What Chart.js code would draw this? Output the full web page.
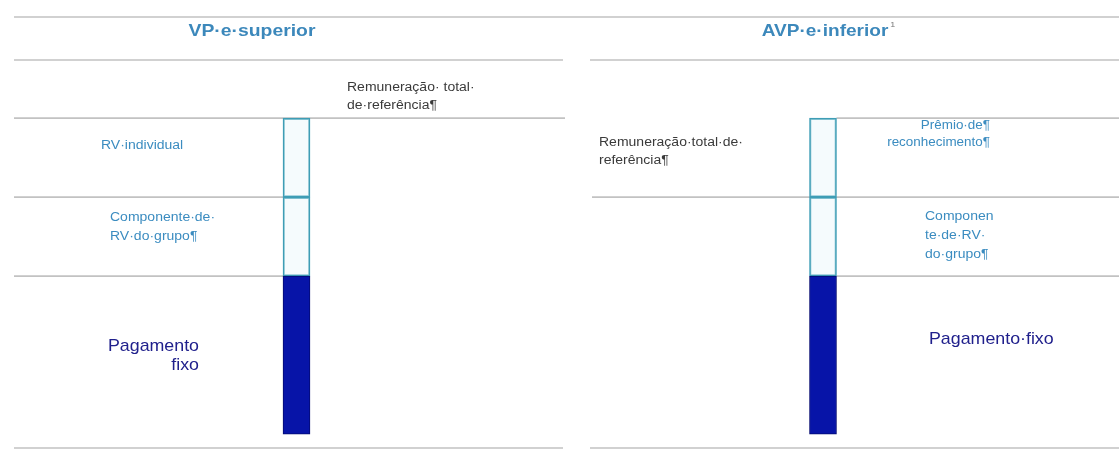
<!DOCTYPE html>
<html lang="pt">
<head>
<meta charset="utf-8">
<title>Estrutura de remuneração</title>
<script src="https://cdn.jsdelivr.net/npm/chart.js@4"></script>
<style>
  html, body { margin: 0; padding: 0; background: #ffffff; }
  #wrap { position: relative; width: 1119px; height: 475px; overflow: hidden; }
  #wrap canvas { position: absolute; left: 0; top: 0; }
</style>
</head>
<body>
<div id="wrap">
  <canvas id="vp" width="1119" height="475"></canvas>
  <canvas id="avp" width="1119" height="475"></canvas>
</div>
<script>
// Components of pay, stacked from the bottom up
const components = ['Pagamento fixo', 'Componente de RV do grupo', 'Remuneração variável individual'];
// Share of reference total pay (%) for each group
const vpValues = [50, 25, 25];
const avpValues = [50, 25, 25];
// Panel headings
const panelTitles = ['VP·e·superior', 'AVP·e·inferior'];
const titleNote = '1';
// Text labels written next to the bars
const vpLabels = {
  total: ['Remuneração· total·', 'de·referência¶'],
  top: ['RV·individual'],
  group: ['Componente·de·', 'RV·do·grupo¶'],
  fixed: ['Pagamento', 'fixo']
};
const avpLabels = {
  total: ['Remuneração·total·de·', 'referência¶'],
  top: ['Prêmio·de¶', 'reconhecimento¶'],
  group: ['Componen', 'te·de·RV·', 'do·grupo¶'],
  fixed: ['Pagamento·fixo']
};

const FONT = '"Liberation Sans", Arial, Helvetica, sans-serif';
const SX = 1.12;              // slightly widened lettering
const RULE = '#c2c2c2';
const TITLE_BLUE = '#3c88bb';
const LABEL_BLUE = '#3b8cc0';
const GREY = '#3a3a3a';
const NAVY = '#20208c';

function drawText(ctx, s, x, y, align, size, weight, color) {
  ctx.save();
  ctx.font = weight + ' ' + size + 'px ' + FONT;
  ctx.fillStyle = color;
  ctx.textBaseline = 'middle';
  ctx.textAlign = 'left';
  const w = ctx.measureText(s).width * SX;
  const left = align === 'left' ? x : (align === 'right' ? x - w : x - w / 2);
  ctx.translate(left, y);
  ctx.scale(SX, 1);
  ctx.fillText(s, 0, 0);
  ctx.restore();
  return left + w;
}

function drawLines(ctx, x, y, lines, gap, align, size, weight, color) {
  lines.forEach((s, i) => drawText(ctx, s, x, y + i * gap, align, size, weight, color));
}

function rule(ctx, y, x1, x2) {
  ctx.save();
  ctx.strokeStyle = RULE;
  ctx.lineWidth = 1.6;
  ctx.beginPath();
  ctx.moveTo(x1, y);
  ctx.lineTo(x2, y);
  ctx.stroke();
  ctx.restore();
}

// Pixel helpers shared by both panels
function geometry(chart, values) {
  const ys = chart.scales.y;
  const bar = chart.getDatasetMeta(0).data[0];
  const half = bar.width / 2;
  return {
    top: chart.chartArea.top,
    header: chart.chartArea.top + 43,
    bottom: chart.chartArea.bottom,
    yTotal: ys.getPixelForValue(values[0] + values[1] + values[2]),
    yGroup: ys.getPixelForValue(values[0] + values[1]),
    yFixed: ys.getPixelForValue(values[0]),
    barL: bar.x - half,
    barR: bar.x + half,
    cx: bar.x
  };
}

function makeChart(id, title, values, padding, framePlugin) {
  return new Chart(document.getElementById(id), {
    type: 'bar',
    data: {
      labels: [title],
      datasets: [
        {
          label: components[0], data: [values[0]],
          backgroundColor: '#0714a8', borderColor: '#030a70',
          borderWidth: 1, borderSkipped: false, barThickness: 27
        },
        {
          label: components[1], data: [values[1]],
          backgroundColor: 'rgba(236,248,252,0.5)', borderColor: '#3e9db5',
          borderWidth: 1.5, borderSkipped: false, barThickness: 27
        },
        {
          label: components[2], data: [values[2]],
          backgroundColor: 'rgba(236,248,252,0.5)', borderColor: '#3e9db5',
          borderWidth: 1.5, borderSkipped: false, barThickness: 27
        }
      ]
    },
    options: {
      responsive: false,
      animation: false,
      layout: { padding: padding },
      scales: {
        x: { display: false, stacked: true, offset: true },
        y: { display: false, stacked: true, min: -4.4, max: 132 }
      },
      plugins: { legend: { display: false }, tooltip: { enabled: false } }
    },
    plugins: [framePlugin]
  });
}

// Left panel: VP and above
makeChart('vp', panelTitles[0], vpValues,
  { left: 14, right: 540, top: 17, bottom: 27 },
  {
    id: 'vpFrame',
    beforeDatasetsDraw(chart) {
      const ctx = chart.ctx;
      const g = geometry(chart, vpValues);
      rule(ctx, g.top, 14, 563);
      rule(ctx, g.header, 14, 563);
      rule(ctx, g.yTotal, 14, 565);
      rule(ctx, g.yGroup, 14, g.barL);
      rule(ctx, g.yFixed, 14, g.barL);
      rule(ctx, g.bottom, 14, 563);
    },
    afterDatasetsDraw(chart) {
      const ctx = chart.ctx;
      const g = geometry(chart, vpValues);
      drawText(ctx, panelTitles[0], 252, 31, 'center', 17.3, 'bold', TITLE_BLUE);
      drawLines(ctx, 347, g.yTotal - 31, vpLabels.total, 18, 'left', 12.5, 'normal', GREY);
      drawLines(ctx, 101, g.yTotal + 27, vpLabels.top, 19, 'left', 12.5, 'normal', LABEL_BLUE);
      drawLines(ctx, 110, g.yGroup + 20, vpLabels.group, 19, 'left', 12.5, 'normal', LABEL_BLUE);
      drawLines(ctx, 199, g.yFixed + 71, vpLabels.fixed, 19, 'right', 15.9, 'normal', NAVY);
    }
  });

// Right panel: AVP and below
makeChart('avp', panelTitles[1], avpValues,
  { left: 527, right: 0, top: 17, bottom: 27 },
  {
    id: 'avpFrame',
    beforeDatasetsDraw(chart) {
      const ctx = chart.ctx;
      const g = geometry(chart, avpValues);
      rule(ctx, g.top, 563, 1119);
      rule(ctx, g.header, 590, 1119);
      rule(ctx, g.yTotal, g.barR, 1119);
      rule(ctx, g.yGroup, 592, 1119);
      rule(ctx, g.yFixed, g.barR, 1119);
      rule(ctx, g.bottom, 590, 1119);
    },
    afterDatasetsDraw(chart) {
      const ctx = chart.ctx;
      const g = geometry(chart, avpValues);
      const end = drawText(ctx, panelTitles[1], 825, 31, 'center', 17.0, 'bold', TITLE_BLUE);
      drawText(ctx, titleNote, end + 2, 25, 'left', 8, 'normal', '#777777');
      drawLines(ctx, 599, g.yTotal + 24, avpLabels.total, 18, 'left', 12.5, 'normal', GREY);
      drawLines(ctx, 990, g.yTotal + 8, avpLabels.top, 17, 'right', 12.0, 'normal', LABEL_BLUE);
      drawLines(ctx, 925, g.yGroup + 19, avpLabels.group, 19, 'left', 12.5, 'normal', LABEL_BLUE);
      drawLines(ctx, 929, g.yFixed + 64, avpLabels.fixed, 19, 'left', 15.9, 'normal', NAVY);
    }
  });
</script>
</body>
</html>
